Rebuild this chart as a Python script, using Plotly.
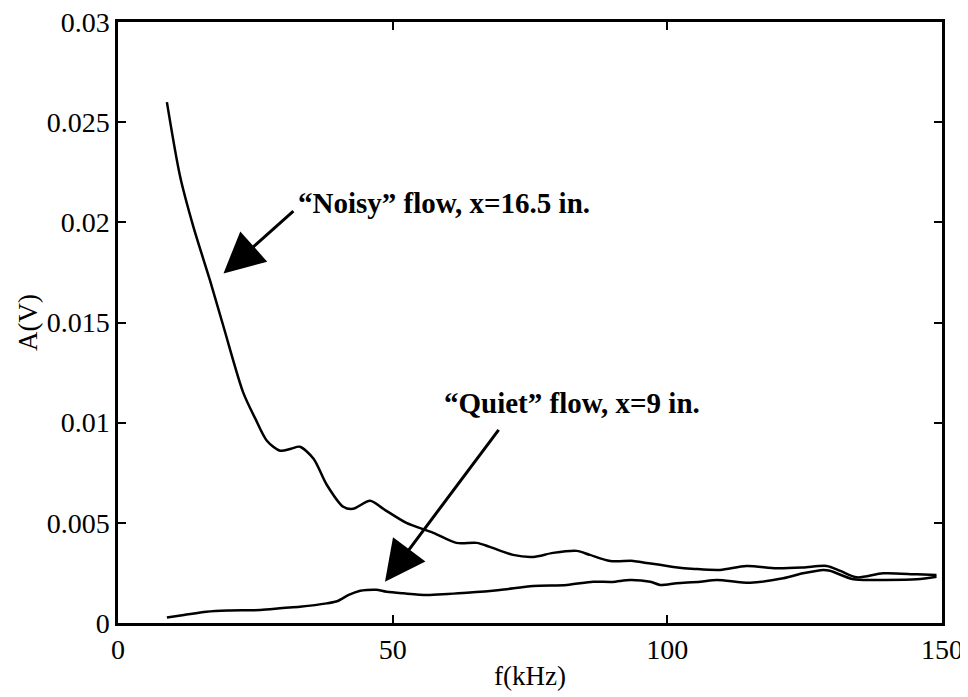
import plotly.graph_objects as go

# Noisy flow, x=16.5 in.
noisy_f = [8.9, 11.3, 13.7, 16.75, 19.2, 22.8, 25.0, 27.1, 29.5, 31.5, 33.1, 35.6, 38.0,
           41.0, 42.8, 45.9, 48.3, 52.5, 57.4, 61.6, 65.3, 67.7, 71.9, 75.6, 79.2, 83.5,
           85.9, 89.6, 93.8, 96.2, 101.1, 105.0, 109.6, 114.4, 119.9, 124.7, 129.0,
           131.5, 134.5, 139.3, 145.4, 149.0]
noisy_a = [0.0260, 0.0223, 0.0198, 0.0171, 0.0148, 0.0115, 0.0102, 0.0091, 0.0086, 0.0087,
           0.0088, 0.0082, 0.0069, 0.0058, 0.0057, 0.0061, 0.0057, 0.0050, 0.0045, 0.0040,
           0.0040, 0.0038, 0.0034, 0.0033, 0.0035, 0.0036, 0.0034, 0.0031, 0.0031, 0.0030,
           0.0028, 0.0027, 0.00265, 0.00285, 0.00273, 0.00277, 0.00285, 0.0026, 0.00228,
           0.00248, 0.00243, 0.0024]

# Quiet flow, x=9 in.
quiet_f = [8.9, 12.0, 16.1, 20.0, 25.9, 30.0, 33.1, 38.0, 40.0, 42.0, 44.1, 45.3, 47.0,
           48.9, 52.0, 56.2, 60.0, 63.5, 69.5, 75.6, 81.7, 86.5, 90.0, 93.2, 96.9, 98.7,
           101.7, 106.0, 109.0, 115.1, 121.1, 124.7, 128.4, 129.6, 133.9, 139.3, 145.4, 149.0]
quiet_a = [0.00028, 0.0004, 0.00056, 0.00062, 0.00065, 0.00075, 0.00081, 0.00098, 0.0011,
           0.0014, 0.00161, 0.00165, 0.00166, 0.00156, 0.00148, 0.0014, 0.00145, 0.00151,
           0.00165, 0.00185, 0.0019, 0.00206, 0.00205, 0.00215, 0.00206, 0.0019, 0.00198,
           0.00206, 0.00215, 0.00201, 0.00223, 0.00248, 0.00265, 0.00261, 0.00218, 0.00215,
           0.00218, 0.00231]

x_ticks = [0, 50, 100, 150]
y_ticks = [0, 0.005, 0.01, 0.015, 0.02, 0.025, 0.03]
y_tick_labels = ["0", "0.005", "0.01", "0.015", "0.02", "0.025", "0.03"]

SERIF = "Liberation Serif, Times New Roman, serif"

fig = go.Figure()
fig.add_trace(go.Scatter(x=noisy_f, y=noisy_a, mode="lines",
                         line=dict(color="black", width=2.5, shape="spline", smoothing=0.8),
                         showlegend=False))
fig.add_trace(go.Scatter(x=quiet_f, y=quiet_a, mode="lines",
                         line=dict(color="black", width=2.5, shape="spline", smoothing=0.8),
                         showlegend=False))

# arrows
fig.add_annotation(x=19.2, y=0.01745, ax=32.2, ay=0.02062, xref="x", yref="y",
                   axref="x", ayref="y", text="", showarrow=True,
                   arrowhead=2, arrowwidth=3, arrowsize=2.7, arrowcolor="black")
fig.add_annotation(x=48.6, y=0.00206, ax=69.5, ay=0.00972, xref="x", yref="y",
                   axref="x", ayref="y", text="", showarrow=True,
                   arrowhead=2, arrowwidth=3, arrowsize=2.7, arrowcolor="black")
# labels
fig.add_annotation(x=32.4, y=0.02097, xref="x", yref="y", xanchor="left", yanchor="middle",
                   text="<b>“Noisy” flow, x=16.5 in.</b>", showarrow=False,
                   font=dict(family=SERIF, size=29, color="black"))
fig.add_annotation(x=59.0, y=0.0110, xref="x", yref="y", xanchor="left", yanchor="middle",
                   text="<b>“Quiet” flow, x=9 in.</b>", showarrow=False,
                   font=dict(family=SERIF, size=29, color="black"))

axis_common = dict(showline=True, linecolor="black", linewidth=2.5, mirror="ticks",
                   ticks="inside", ticklen=8, tickwidth=2, tickcolor="black",
                   showgrid=False, zeroline=False, automargin=False,
                   ticklabeloverflow="allow",
                   tickfont=dict(family=SERIF, size=28, color="black"))

fig.update_xaxes(range=[0, 150], tickvals=x_ticks, ticktext=[str(v) for v in x_ticks],
                 title=dict(text="f(kHz)", font=dict(family=SERIF, size=27, color="black"),
                            standoff=2),
                 **axis_common)
fig.update_yaxes(range=[0, 0.03], tickvals=y_ticks, ticktext=y_tick_labels,
                 title=dict(text="A(V)", font=dict(family=SERIF, size=27, color="black"),
                            standoff=2),
                 **axis_common)

fig.update_layout(width=960, height=689, plot_bgcolor="white", paper_bgcolor="white",
                  margin=dict(l=110, r=26, t=14, b=74))

fig.write_html("out.html")
